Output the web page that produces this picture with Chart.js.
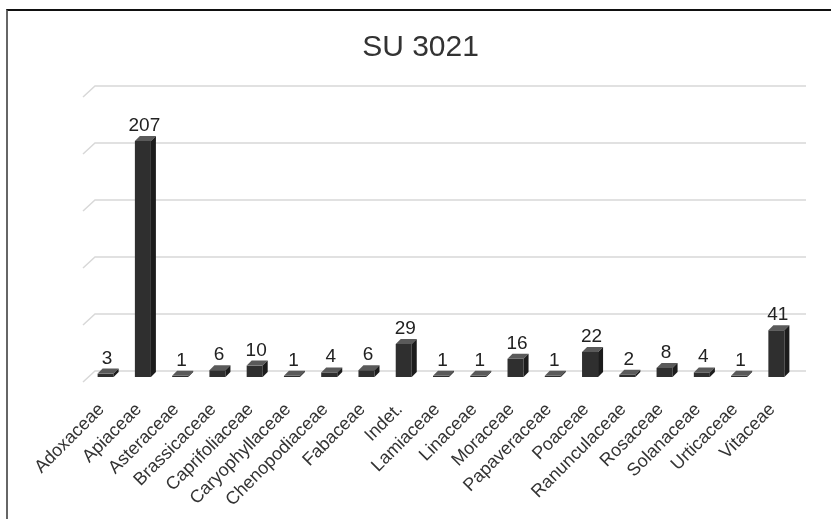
<!DOCTYPE html>
<html><head><meta charset="utf-8">
<script src="https://cdn.jsdelivr.net/npm/chart.js@4.4.0/dist/chart.umd.min.js"></script>
<style>
html,body{margin:0;padding:0;background:#fff;width:831px;height:519px;overflow:hidden}
#wrap{position:absolute;left:0;top:0;width:831px;height:519px}
#frame{position:absolute;left:6px;top:9px;width:830px;height:520px;border-top:2px solid #111;border-left:2px solid #666;pointer-events:none}
</style></head><body>
<div id="wrap"><canvas id="c" width="831" height="519"></canvas></div>
<div id="frame"></div>
<script>
const chartTitle = 'SU 3021';
const categories = ['Adoxaceae','Apiaceae','Asteraceae','Brassicaceae','Caprifoliaceae','Caryophyllaceae','Chenopodiaceae','Fabaceae','Indet.','Lamiaceae','Linaceae','Moraceae','Papaveraceae','Poaceae','Ranunculaceae','Rosaceae','Solanaceae','Urticaceae','Vitaceae'];
const counts = [3,207,1,6,10,1,4,6,29,1,1,16,1,22,2,8,4,1,41];
const yTicks = [0,50,100,150,200,250];

const DX = 5, DY = 5;
const FONT = "'Liberation Sans', Arial, sans-serif";

const wallGrid = {
  id: 'wallGrid',
  beforeDatasetsDraw(chart) {
    const ctx = chart.ctx, ys = chart.scales.y, a = chart.chartArea;
    ctx.save();
    ctx.strokeStyle = '#d8d8d8';
    ctx.lineWidth = 1.5;
    yTicks.forEach(v => {
      const y = ys.getPixelForValue(v) - 6;
      ctx.beginPath();
      ctx.moveTo(a.left - 4, y + 11);
      ctx.lineTo(a.left + 8, y);
      ctx.lineTo(a.right + 11, y);
      ctx.stroke();
    });
    ctx.restore();
  }
};

const bars3d = {
  id: 'bars3d',
  afterDatasetsDraw(chart) {
    const ctx = chart.ctx;
    const meta = chart.getDatasetMeta(0);
    ctx.save();
    meta.data.forEach((bar, i) => {
      const p = bar.getProps(['x','y','base','width'], true);
      const l = p.x - p.width / 2, r = p.x + p.width / 2;
      ctx.fillStyle = '#5a5a5a';
      ctx.beginPath();
      ctx.moveTo(l, p.y); ctx.lineTo(l + DX, p.y - DY); ctx.lineTo(r + DX, p.y - DY); ctx.lineTo(r, p.y);
      ctx.closePath(); ctx.fill();
      ctx.fillStyle = '#1c1c1c';
      ctx.beginPath();
      ctx.moveTo(r, p.y); ctx.lineTo(r + DX, p.y - DY); ctx.lineTo(r + DX, p.base - DY); ctx.lineTo(r, p.base);
      ctx.closePath(); ctx.fill();
      ctx.fillStyle = '#222';
      ctx.font = '19px ' + FONT;
      ctx.textAlign = 'center';
      ctx.textBaseline = 'alphabetic';
      ctx.fillText(String(counts[i]), p.x + DX / 2 - 1, p.y - 10);
    });
    ctx.restore();
  }
};

new Chart(document.getElementById('c'), {
  type: 'bar',
  data: {
    labels: categories,
    datasets: [{
      data: counts,
      backgroundColor: '#2f2f2f',
      borderWidth: 0,
      barPercentage: 0.43,
      categoryPercentage: 1
    }]
  },
  options: {
    responsive: false,
    animation: false,
    devicePixelRatio: 1,
    layout: { padding: { left: 10, right: 0, top: 0, bottom: 0 } },
    plugins: {
      legend: { display: false },
      tooltip: { enabled: false },
      title: {
        display: true,
        text: chartTitle,
        color: '#333',
        font: { family: FONT, size: 30, weight: 'normal' },
        padding: { top: 30, bottom: 26 }
      }
    },
    scales: {
      x: {
        grid: { display: false, drawTicks: false },
        border: { display: false },
        ticks: {
          autoSkip: false,
          minRotation: 45,
          maxRotation: 45,
          padding: 22,
          labelOffset: -4,
          color: '#333',
          font: { family: FONT, size: 18 }
        },
        afterFit(s) { s.height = 142; }
      },
      y: {
        min: 0, max: 250,
        grid: { display: false },
        border: { display: false },
        ticks: { display: false, stepSize: 50 },
        afterFit(s) { s.width = 77; }
      },
      yr: {
        position: 'right',
        min: 0, max: 250,
        grid: { display: false },
        border: { display: false },
        ticks: { display: false },
        afterFit(s) { s.width = 36; }
      }
    }
  },
  plugins: [wallGrid, bars3d]
});
</script>
</body></html>
